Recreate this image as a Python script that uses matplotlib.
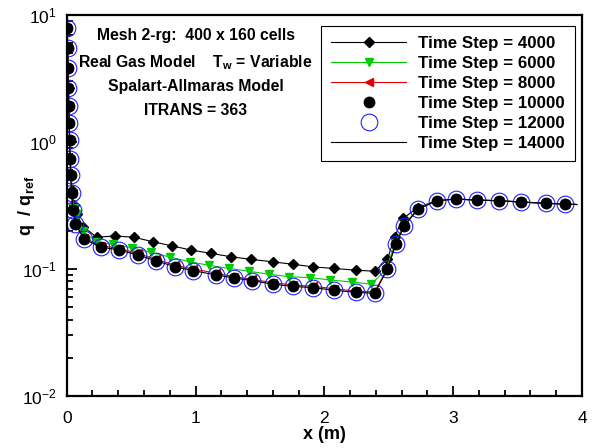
import matplotlib
matplotlib.use("Agg")
import matplotlib.pyplot as plt

plt.rcParams['font.family'] = ['Liberation Sans', 'DejaVu Sans']
plt.rcParams['mathtext.fontset'] = 'custom'
plt.rcParams['mathtext.rm'] = 'Liberation Sans'
plt.rcParams['mathtext.bf'] = 'Liberation Sans:bold'

# converged solution (time steps 10000, 12000, 14000)
x_conv = [0.0, 0.004, 0.007, 0.010, 0.013, 0.016, 0.019, 0.022, 0.026, 0.031, 0.038,
          0.048, 0.066, 0.135, 0.265, 0.408, 0.55, 0.694, 0.844, 0.984, 1.156, 1.30,
          1.442, 1.598, 1.754, 1.914, 2.073, 2.242, 2.39, 2.489, 2.555, 2.62, 2.725,
          2.871, 3.021, 3.182, 3.352, 3.528, 3.722, 3.870, 3.96]
q_conv = [10.5, 7.9, 5.5, 3.8, 2.66, 1.92, 1.41, 1.04, 0.73, 0.55, 0.40,
          0.29, 0.226, 0.172, 0.149, 0.141, 0.129, 0.116, 0.104, 0.097, 0.090, 0.085,
          0.081, 0.076, 0.073, 0.0713, 0.068, 0.0656, 0.0644, 0.0995, 0.157, 0.219, 0.295,
          0.345, 0.356, 0.349, 0.345, 0.337, 0.329, 0.325, 0.322]

# time step 8000 (red)
q_8000 = [10.5, 7.9, 5.5, 3.8, 2.66, 1.92, 1.41, 1.04, 0.73, 0.55, 0.40,
          0.29, 0.228, 0.175, 0.153, 0.145, 0.133, 0.119, 0.107, 0.100, 0.093, 0.087,
          0.083, 0.078, 0.075, 0.073, 0.070, 0.067, 0.066, 0.101, 0.158, 0.219, 0.295,
          0.345, 0.356, 0.349, 0.345, 0.337, 0.329, 0.325, 0.322]

# time step 6000 (green)
x_6000 = [0.0, 0.005, 0.008, 0.011, 0.014, 0.017, 0.020, 0.024, 0.028, 0.034, 0.042,
          0.055, 0.076, 0.13, 0.23, 0.363, 0.507, 0.655, 0.805, 0.956, 1.104, 1.26,
          1.415, 1.571, 1.727, 1.891, 2.047, 2.213, 2.364, 2.475, 2.55, 2.615, 2.725,
          2.871, 3.021, 3.182, 3.352, 3.528, 3.722, 3.870, 3.96]
q_6000 = [10.5, 7.6, 5.3, 3.7, 2.6, 1.88, 1.38, 1.0, 0.72, 0.54, 0.40,
          0.30, 0.27, 0.20, 0.163, 0.156, 0.147, 0.135, 0.124, 0.114, 0.107, 0.101,
          0.096, 0.091, 0.087, 0.0855, 0.082, 0.079, 0.076, 0.098, 0.16, 0.221, 0.297,
          0.345, 0.356, 0.349, 0.345, 0.337, 0.329, 0.325, 0.322]

# time step 4000 (black diamonds)
x_4000 = [0.0, 0.005, 0.008, 0.011, 0.014, 0.017, 0.020, 0.024, 0.028, 0.034, 0.042,
          0.055, 0.076, 0.129, 0.234, 0.376, 0.519, 0.670, 0.818, 0.966, 1.117, 1.273,
          1.434, 1.598, 1.754, 1.914, 2.073, 2.242, 2.39, 2.489, 2.546, 2.61, 2.725,
          2.871, 3.021, 3.182, 3.352, 3.528, 3.722, 3.870, 3.96]
q_4000 = [10.5, 7.8, 5.4, 3.8, 2.65, 1.9, 1.4, 1.03, 0.74, 0.56, 0.42,
          0.32, 0.27, 0.215, 0.178, 0.182, 0.178, 0.164, 0.152, 0.141, 0.133, 0.125,
          0.119, 0.114, 0.109, 0.104, 0.101, 0.098, 0.096, 0.119, 0.18, 0.25, 0.305,
          0.345, 0.356, 0.349, 0.345, 0.337, 0.329, 0.325, 0.322]

labels = ["Time Step = 4000", "Time Step = 6000", "Time Step = 8000",
          "Time Step = 10000", "Time Step = 12000", "Time Step = 14000"]
info_lines = ["Mesh 2-rg:  400 x 160 cells",
              r"Real Gas Model    T$_{\mathbf{w}}$ = Variable",
              "Spalart-Allmaras Model",
              "ITRANS = 363"]

fig = plt.figure(figsize=(5.93, 4.48), dpi=100)
ax = fig.add_axes([0.1125, 0.116, 0.869, 0.8505])

mk = slice(1, -1)
ax.plot(x_4000, q_4000, color='black', lw=0.8, marker='D', ms=5,
        markevery=mk, label=labels[0])
ax.plot(x_6000, q_6000, color='#00cc00', lw=0.8, marker='v', ms=6,
        markevery=mk, label=labels[1])
ax.plot(x_conv, q_8000, color='#e00000', lw=0.8, marker='<', ms=6,
        markevery=mk, label=labels[2])
ax.plot(x_conv, q_conv, ls='none', color='black', marker='o', ms=7.5,
        markevery=mk, label=labels[3])
ax.plot(x_conv, q_conv, ls='none', marker='o', ms=12, mfc='none', mec='#2020ff',
        mew=0.8, markevery=mk, label=labels[4])
ax.plot(x_conv, q_conv, color='black', lw=0.8, label=labels[5])

ax.set_yscale('log')
ax.set_xlim(0, 4)
ax.set_ylim(0.01, 10)
ax.set_xticks([0, 1, 2, 3, 4])
ax.set_xticks([i * 0.2 for i in range(21)], minor=True)

for s in ax.spines.values():
    s.set_linewidth(1.6)
ax.tick_params(which='both', direction='in', width=1.3, labelsize=12.5,
               top=False, right=False)
ax.tick_params(which='major', length=7)
ax.tick_params(which='minor', length=4)
ax.tick_params(axis='x', which='major', pad=11)
ax.tick_params(axis='y', which='major', pad=7)

ax.set_xlabel("x (m)", fontsize=13, fontweight='bold')
ax.xaxis.set_label_coords(0.5, -0.078)
ax.set_ylabel(r"q  / q$_{\mathbf{ref}}$", fontsize=13, fontweight='bold')
ax.yaxis.set_label_coords(-0.058, 0.5)

ys = [0.945, 0.876, 0.813, 0.75]
for t, y in zip(info_lines, ys):
    ax.text(0.25, y, t, transform=ax.transAxes, ha='center', va='center',
            fontsize=11.3, fontweight='bold')

leg = ax.legend(loc='upper right', bbox_to_anchor=(0.986, 0.972), borderaxespad=0,
                prop={'weight': 'bold', 'size': 12.2}, handlelength=4.4,
                handletextpad=0.7, labelspacing=0.3, fancybox=False,
                framealpha=1, edgecolor='black', borderpad=0.6)
leg.get_frame().set_linewidth(0.8)

fig.savefig("out.png", dpi=100)
